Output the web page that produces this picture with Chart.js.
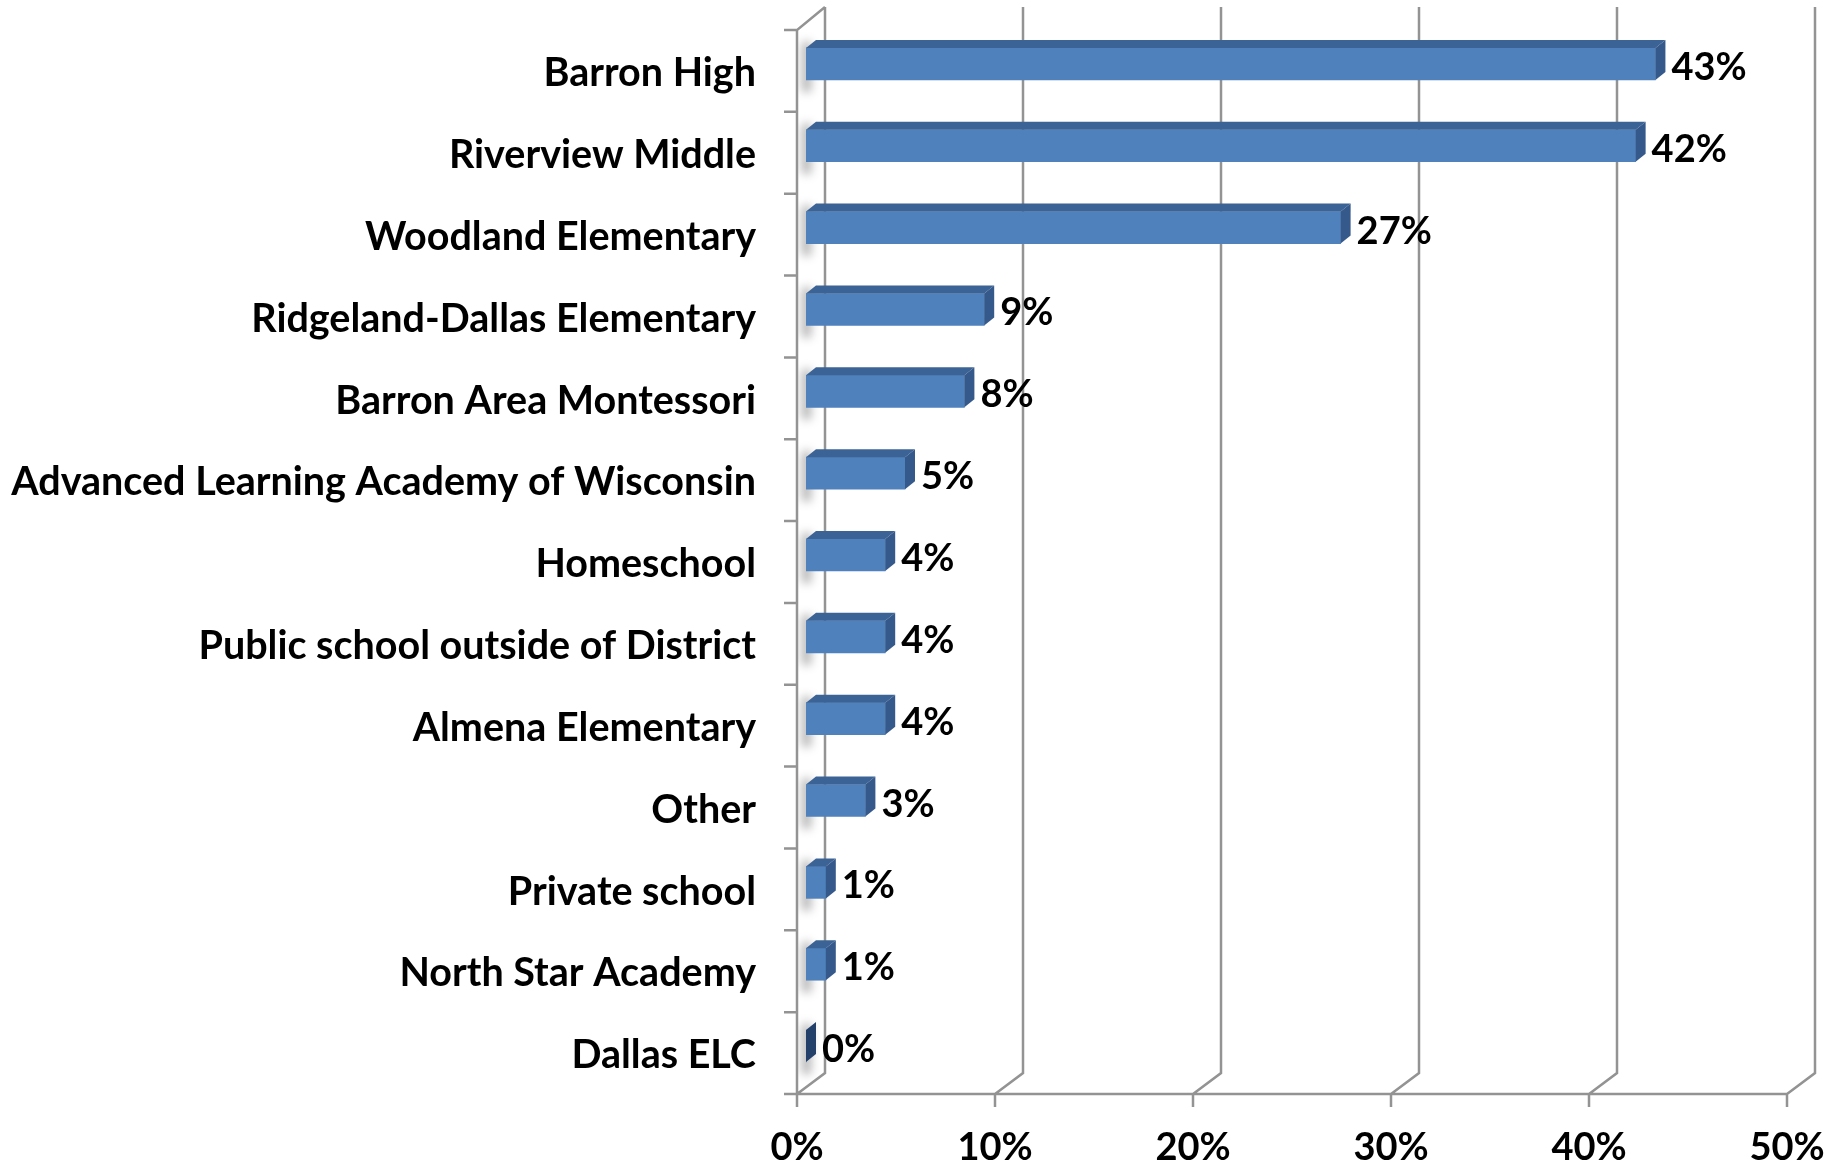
<!DOCTYPE html>
<html>
<head>
<meta charset="utf-8">
<script src="https://cdn.jsdelivr.net/npm/chart.js@4/dist/chart.umd.min.js"></script>
<style>
  html, body { margin: 0; padding: 0; background: #fff; }
  canvas { display: block; }
</style>
</head>
<body>
<canvas id="schoolChart" width="1841" height="1166"></canvas>
<script>
// values (percent)
var schools = [
    "Barron High",
    "Riverview Middle",
    "Woodland Elementary",
    "Ridgeland-Dallas Elementary",
    "Barron Area Montessori",
    "Advanced Learning Academy of Wisconsin",
    "Homeschool",
    "Public school outside of District",
    "Almena Elementary",
    "Other",
    "Private school",
    "North Star Academy",
    "Dallas ELC"
];
var percents = [42.9, 41.9, 27.0, 9.0, 8.0, 5.0, 4.0, 4.0, 4.0, 3.0, 1.0, 1.0, 0];
var xTicks = [0, 10, 20, 30, 40, 50];

// 3d look
var FRONT_SHIFT = 9;   // front axis sits left of the bar base
var WALL_DX = 28, WALL_DY = 21;
var BAR_DX = 10, BAR_DY = 8;
var LINE = '#939393';

Chart.defaults.font.family = 'Lato';

function noPadding(s) {
    s.paddingLeft = 0;
    s.paddingRight = 0;
    s.paddingTop = 0;
    s.paddingBottom = 0;
}

var wall3d = {
    id: 'wall3d',
    beforeDatasetsDraw: function (chart) {
        var ctx = chart.ctx;
        var x = chart.scales.x, y = chart.scales.y;
        var frontTop = y.top + 7, frontBottom = y.bottom + 7;
        var backTop = frontTop - 23, backBottom = frontBottom - WALL_DY;
        var band = (y.bottom - y.top) / schools.length;
        var f0 = x.getPixelForValue(0) - FRONT_SHIFT;
        var b0 = f0 + WALL_DX;

        // soft shadows of the bars on the side wall
        ctx.save();
        ctx.beginPath();
        ctx.moveTo(f0, frontTop);
        ctx.lineTo(b0, backTop);
        ctx.lineTo(b0, backBottom);
        ctx.lineTo(f0, frontBottom);
        ctx.closePath();
        ctx.clip();
        ctx.filter = 'blur(5px)';
        ctx.fillStyle = 'rgba(0,0,0,0.30)';
        chart.getDatasetMeta(0).data.forEach(function (el) {
            ctx.fillRect(f0 + 5, el.y - el.height / 2 - 6, 9, el.height + 18);
        });
        ctx.restore();

        ctx.save();
        ctx.strokeStyle = LINE;
        ctx.lineWidth = 2.5;
        ctx.beginPath();
        xTicks.forEach(function (v) {
            var fx = x.getPixelForValue(v) - FRONT_SHIFT;
            var bx = fx + WALL_DX;
            ctx.moveTo(bx, backTop);
            ctx.lineTo(bx, backBottom);
            ctx.lineTo(fx, frontBottom);
            // tick below floor
            ctx.moveTo(fx, frontBottom);
            ctx.lineTo(fx, frontBottom + 13);
        });
        // wall front edge + top
        ctx.moveTo(b0, backTop);
        ctx.lineTo(f0, frontTop);
        ctx.lineTo(f0, frontBottom);
        // floor front edge
        ctx.lineTo(x.getPixelForValue(50) - FRONT_SHIFT, frontBottom);
        // category ticks
        for (var k = 0; k <= schools.length; k++) {
            var ty = frontTop + band * k;
            ctx.moveTo(f0 - 13, ty);
            ctx.lineTo(f0, ty);
        }
        ctx.stroke();
        ctx.restore();
    },
    afterDatasetsDraw: function (chart) {
        var ctx = chart.ctx;
        ctx.save();
        chart.getDatasetMeta(0).data.forEach(function (el, i) {
            var top = el.y - el.height / 2, bottom = el.y + el.height / 2;
            if (el.x - el.base > 0.5) {
                ctx.fillStyle = '#3C6395';
                ctx.beginPath();
                ctx.moveTo(el.base, top);
                ctx.lineTo(el.x, top);
                ctx.lineTo(el.x + BAR_DX, top - BAR_DY);
                ctx.lineTo(el.base + BAR_DX, top - BAR_DY);
                ctx.closePath();
                ctx.fill();
                ctx.fillStyle = '#35598A';
            } else {
                ctx.fillStyle = '#23406A';
            }
            ctx.beginPath();
            ctx.moveTo(el.x, top);
            ctx.lineTo(el.x + BAR_DX, top - BAR_DY);
            ctx.lineTo(el.x + BAR_DX, bottom - BAR_DY);
            ctx.lineTo(el.x, bottom);
            ctx.closePath();
            ctx.fill();

            ctx.fillStyle = '#000';
            ctx.font = 'bold 38px Lato';
            ctx.textAlign = 'left';
            ctx.textBaseline = 'alphabetic';
            ctx.fillText(Math.round(percents[i]) + '%', el.x + BAR_DX + 6, bottom);
        });
        ctx.restore();
    }
};

var chart = new Chart(document.getElementById('schoolChart'), {
    type: 'bar',
    data: {
        labels: schools,
        datasets: [{
            data: percents,
            backgroundColor: '#4F81BD',
            borderWidth: 0,
            barThickness: 32
        }]
    },
    options: {
        indexAxis: 'y',
        responsive: false,
        devicePixelRatio: 1,
        animation: false,
        layout: { padding: { top: 23, right: 45, left: 0, bottom: 0 } },
        plugins: {
            legend: { display: false },
            tooltip: { enabled: false }
        },
        scales: {
            x: {
                min: 0,
                max: 50,
                grid: { display: false, drawTicks: false },
                border: { display: false },
                ticks: {
                    stepSize: 10,
                    color: '#000',
                    font: { size: 38, weight: 'bold' },
                    padding: 38,
                    labelOffset: -FRONT_SHIFT,
                    maxRotation: 0,
                    callback: function (v) { return v + '%'; }
                },
                afterFit: function (s) { s.height = 79; noPadding(s); }
            },
            y: {
                grid: { display: false, drawTicks: false },
                border: { display: false },
                ticks: {
                    color: '#000',
                    font: { size: 39.5, weight: 'bold' },
                    padding: 50,
                    labelOffset: 9.5,
                    autoSkip: false
                },
                afterFit: function (s) { s.width = 806; noPadding(s); }
            }
        }
    },
    plugins: [wall3d]
});
</script>
</body>
</html>
